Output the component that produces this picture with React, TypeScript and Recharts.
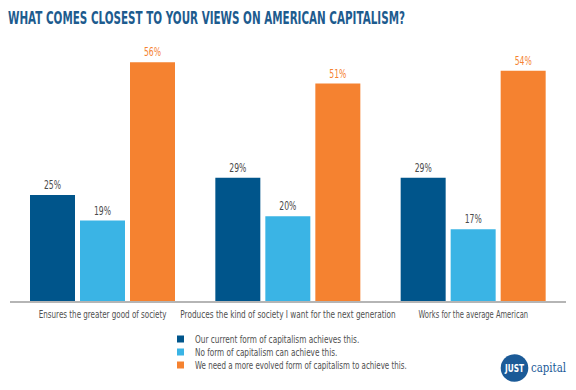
import { BarChart, Bar, XAxis, YAxis, LabelList } from "recharts";

const categories = [
  "Ensures the greater good of society",
  "Produces the kind of society I want for the next generation",
  "Works for the average American",
];
const currentForm = [25, 29, 29];
const noForm = [19, 20, 17];
const evolvedForm = [56, 51, 54];

const seriesNames = [
  "Our current form of capitalism achieves this.",
  "No form of capitalism can achieve this.",
  "We need a more evolved form of capitalism to achieve this.",
];

const COLORS = ["#00558b", "#3ab4e5", "#f58230"];
const FONT = "'DejaVu Sans', sans-serif";
// the original uses a very narrow face, so text is squeezed to its width
const CHAR_W = 3.65;

const data = categories.map((name, i) => ({
  name,
  current: currentForm[i],
  none: noForm[i],
  evolved: evolvedForm[i],
}));

// horizontally squeezed text: scaled on x, then fitted to the wanted width
function Narrow({
  x,
  y,
  width,
  sx,
  anchor = "start",
  children,
  ...rest
}: any) {
  return (
    <text
      transform={`translate(${x},${y}) scale(${sx},1)`}
      x={0}
      y={0}
      textAnchor={anchor}
      textLength={width / sx}
      lengthAdjust="spacingAndGlyphs"
      fontFamily={FONT}
      {...rest}
    >
      {children}
    </text>
  );
}

function CategoryTick(props: any) {
  const { x, y, payload } = props;
  const s = String(payload.value);
  return (
    <Narrow x={x} y={y + 10} width={s.length * CHAR_W} sx={0.62} anchor="middle" fill="#505050" fontSize={10}>
      {s}
    </Narrow>
  );
}

const valueLabel = (color: string) => (props: any) => {
  const { x, y, width, value } = props;
  const s = `${value}%`;
  return (
    <Narrow x={x + width / 2} y={y - 6} width={s.length * 5.7} sx={0.75} anchor="middle" fill={color} fontSize={12}>
      {s}
    </Narrow>
  );
};

export default function App() {
  return (
    <div
      style={{
        position: "absolute",
        left: 0,
        top: 0,
        width: 576,
        height: 390,
        background: "#fff",
        fontFamily: FONT,
      }}
    >
      <svg width={576} height={40} style={{ position: "absolute", left: 0, top: 0 }}>
        <Narrow x={8} y={24} width={397} sx={0.66} fill="#1d5b8e" fontSize={17} fontWeight="bold">
          WHAT COMES CLOSEST TO YOUR VIEWS ON AMERICAN CAPITALISM?
        </Narrow>
      </svg>

      <div style={{ position: "absolute", left: 0, top: 0 }}>
        <BarChart
          width={576}
          height={330}
          data={data}
          margin={{ top: 45, right: 10, left: 10, bottom: 0 }}
          barCategoryGap={20}
          barGap={5}
        >
          <XAxis
            dataKey="name"
            height={28}
            interval={0}
            tickLine={false}
            tickMargin={0}
            axisLine={{ stroke: "#b5b5b5", strokeWidth: 2 }}
            tick={<CategoryTick />}
          />
          <YAxis hide domain={[0, 60]} />
          <Bar dataKey="current" fill={COLORS[0]} isAnimationActive={false}>
            <LabelList dataKey="current" content={valueLabel("#4a4a4a")} />
          </Bar>
          <Bar dataKey="none" fill={COLORS[1]} isAnimationActive={false}>
            <LabelList dataKey="none" content={valueLabel("#4a4a4a")} />
          </Bar>
          <Bar dataKey="evolved" fill={COLORS[2]} isAnimationActive={false}>
            <LabelList dataKey="evolved" content={valueLabel(COLORS[2])} />
          </Bar>
        </BarChart>
      </div>

      {/* legend */}
      <svg width={320} height={45} style={{ position: "absolute", left: 170, top: 330 }}>
        {seriesNames.map((s, i) => (
          <g key={s}>
            <rect x={7} y={5.5 + i * 13} width={7} height={7} fill={COLORS[i]} />
            <Narrow x={25} y={12.5 + i * 13} width={s.length * CHAR_W} sx={0.62} fill="#505050" fontSize={10}>
              {s}
            </Narrow>
          </g>
        ))}
      </svg>

      {/* JUST capital mark */}
      <svg width={78} height={32} style={{ position: "absolute", left: 498, top: 352 }}>
        <circle cx={16.5} cy={16} r={13.8} fill="#1b5a97" />
        <Narrow x={16.5} y={20} width={19} sx={0.63} anchor="middle" fill="#fff" fontSize={11} fontWeight="bold">
          JUST
        </Narrow>
        <Narrow x={33} y={20} width={35} sx={0.67} fill="#1b5a97" fontSize={13} fontFamily="'DejaVu Serif', serif">
          capital
        </Narrow>
      </svg>
    </div>
  );
}
